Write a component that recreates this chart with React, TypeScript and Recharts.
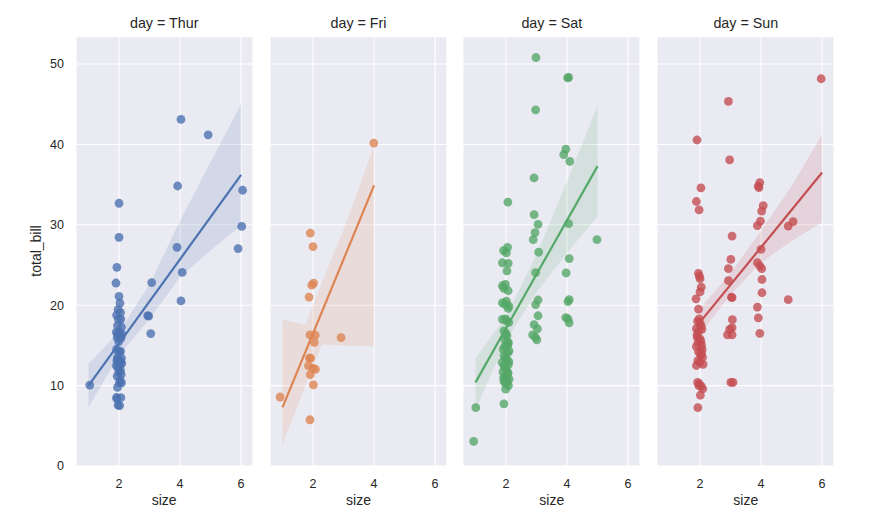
import React from "react";
import {
  ComposedChart,
  Scatter,
  Line,
  Area,
  XAxis,
  YAxis,
  CartesianGrid,
} from "recharts";

// ---------- data ----------
const days = ["Thur", "Fri", "Sat", "Sun"];
const colors = ["#4C72B0", "#DD8452", "#55A868", "#C44E52"];
const xTicks = [2, 4, 6];
const yTicks = [0, 10, 20, 30, 40, 50];

// Thursday (jittered size, total_bill)
const thurSize = [
  1.04, 3.07, 2.94, 2.97, 3.04, 4.03, 3.92, 3.9, 4.07, 4.03, 4.92, 6.05, 6.02, 5.9,
  2.0, 2.0, 1.93, 1.9, 2.0, 2.03, 1.97, 2.05, 1.92, 2.06, 1.98, 1.95, 2.08, 1.91,
  2.02, 2.09, 1.96, 2.04, 1.94, 2.07, 1.99, 1.92, 2.05, 2.01, 1.95, 2.08, 1.93,
  2.03, 2.06, 1.97, 2.09, 1.91, 2.02, 1.96, 2.05, 1.99, 2.07, 1.94, 2.04, 2.08,
  2.01, 1.95, 1.92, 2.06, 1.93, 1.97, 2.02,
];
const thurBill = [
  10.07, 22.82, 18.71, 18.64, 16.47, 43.11, 34.83, 27.2, 24.08, 20.53, 41.19, 34.3,
  29.8, 27.05, 32.68, 28.44, 24.71, 22.76, 21.1, 20.27, 19.44, 19.08, 18.78, 18.28,
  18.26, 17.47, 17.29, 16.66, 16.58, 16.43, 16.4, 16.0, 15.98, 15.95, 15.48, 14.52,
  14.26, 14.15, 13.51, 13.42, 13.16, 13.03, 13.0, 13.0, 12.74, 12.48, 12.43, 12.26,
  11.87, 11.69, 11.38, 11.17, 10.65, 10.34, 10.33, 9.78, 8.52, 8.51, 8.35, 7.56, 7.51,
];
const thurFitX = [1, 6];
const thurFitY = [10.0, 36.2];
const thurBandX = [1, 2, 3, 4, 5, 6];
const thurBandLow = [7.3, 13.8, 18.3, 23.5, 26.8, 29.9];
const thurBandHigh = [12.7, 16.7, 22.6, 30.5, 37.8, 45.0];

// Friday
const friSize = [
  1.91, 2.0, 1.96, 2.02, 1.87, 1.9, 2.07, 2.04, 2.92, 1.88, 1.92, 1.85, 2.0, 2.08,
  1.91, 2.01, 0.92, 1.9, 3.99,
];
const friBill = [
  28.97, 27.28, 22.49, 22.75, 21.01, 16.32, 16.27, 15.38, 15.98, 13.42, 13.42, 12.46,
  12.16, 12.03, 11.35, 10.09, 8.58, 5.75, 40.17,
];
const friFitX = [1, 4];
const friFitY = [7.3, 34.9];
const friBandX = [1, 1.5, 1.75, 2, 2.3, 3, 4];
const friBandLow = [2.7, 7.5, 10.0, 12.4, 15.1, 15.0, 14.9];
const friBandHigh = [18.2, 17.8, 17.6, 20.0, 22.9, 29.4, 39.8];

// Saturday
const satSize = [
  2.97, 2.98, 4.02, 4.05, 3.96, 3.89, 4.09, 2.92, 2.06, 2.92, 3.05, 4.05, 2.95, 2.89,
  4.98, 1.92, 2.05, 2.01, 3.07, 1.88, 2.07, 2.03, 4.07, 3.97, 2.97, 1.88, 1.98, 2.07,
  1.93, 1.88, 2.01, 2.09, 1.96, 2.07, 3.05, 2.97, 4.07, 4.03, 3.05, 1.88, 1.98, 2.09,
  2.02, 3.96, 4.03, 4.07, 2.92, 3.03, 2.87, 2.96, 3.01, 1.93, 2.03, 2.08, 1.96, 2.1,
  1.93, 2.02, 1.87, 2.08, 1.96, 1.9, 2.05, 1.99, 2.1, 1.93, 2.03, 2.08, 1.99, 1.93,
  1.01, 0.94, 2.0, 1.95, 2.06, 1.91, 2.04, 1.98, 2.09, 1.94, 2.01, 2.07, 1.92, 2.03,
  1.97, 2.05, 1.99,
];
const satBill = [
  44.3, 50.81, 48.27, 48.33, 39.42, 38.73, 37.9, 35.83, 32.83, 31.27, 30.06, 30.14,
  29.03, 28.15, 28.15, 26.8, 27.2, 26.5, 26.59, 25.28, 25.21, 24.27, 25.8, 24.01,
  24.06, 22.42, 22.6, 21.8, 22.1, 20.3, 20.5, 19.9, 20.1, 19.6, 20.65, 20.08, 20.69,
  20.45, 18.69, 18.25, 18.3, 17.85, 18.05, 18.45, 18.29, 17.81, 17.59, 17.07, 16.31,
  16.04, 15.69, 16.8, 16.2, 15.35, 14.9, 14.3, 13.7, 13.2, 12.9, 12.65, 12.25, 11.7,
  11.4, 11.1, 10.8, 10.6, 10.4, 10.0, 9.55, 7.74, 7.25, 3.07, 16.5, 15.8, 15.0, 14.5,
  14.0, 13.4, 13.0, 12.4, 12.0, 11.6, 11.0, 10.6, 10.3, 15.4, 14.7,
];
const satFitX = [1, 5];
const satFitY = [10.4, 37.3];
const satBandX = [1, 2, 3, 4, 5];
const satBandLow = [7.0, 15.6, 21.6, 26.5, 31.1];
const satBandHigh = [13.4, 18.6, 26.3, 35.4, 44.8];

// Sunday
const sunSize = [
  5.97, 2.93, 1.9, 2.97, 3.96, 3.91, 3.93, 2.03, 1.88, 1.97, 4.07, 4.02, 3.98, 3.88,
  5.05, 4.89, 3.05, 4.0, 3.01, 2.93, 2.93, 3.03, 3.05, 3.88, 3.96, 4.02, 4.03, 4.03,
  4.89, 3.88, 3.91, 3.96, 1.95, 1.98, 2.0, 2.04, 2.0, 1.87, 1.95, 1.92, 2.0, 2.04,
  1.88, 1.96, 2.0, 1.93, 2.05, 1.88, 2.07, 2.02, 1.93, 2.1, 1.88, 1.92, 1.98, 2.04,
  2.09, 2.01, 1.93, 3.06, 3.05, 2.97, 2.9, 3.05, 3.01, 3.08, 1.97, 2.06, 1.9, 2.03,
  1.95, 2.08, 1.99, 1.91, 2.05, 1.96,
];
const sunBill = [
  48.17, 45.35, 40.55, 38.07, 35.26, 34.81, 34.63, 34.6, 32.9, 31.85, 32.4, 31.71,
  30.46, 29.9, 30.4, 29.85, 28.6, 26.95, 25.7, 24.55, 23.05, 21.0, 20.95, 25.3, 24.9,
  24.55, 23.2, 21.55, 20.69, 19.77, 18.43, 16.49, 23.95, 23.6, 23.3, 22.25, 21.65,
  20.8, 19.5, 18.0, 17.75, 17.4, 17.1, 16.8, 15.8, 15.3, 15.0, 14.85, 14.5, 13.8,
  13.1, 12.65, 12.5, 10.4, 10.2, 9.9, 9.6, 8.8, 7.25, 18.2, 17.2, 17.0, 16.3, 16.3,
  10.4, 10.4, 18.3, 17.0, 16.3, 15.5, 14.2, 13.5, 12.9, 16.0, 14.0, 10.0,
];
const sunFitX = [2, 6];
const sunFitY = [17.9, 36.5];
const sunBandX = [2, 3, 4, 5, 6];
const sunBandLow = [16.4, 21.3, 25.3, 28.0, 30.3];
const sunBandHigh = [19.6, 24.0, 29.3, 34.8, 41.25];

// ---------- helpers ----------
const zipPts = (xs: number[], ys: number[]) => xs.map((x, i) => ({ x, y: ys[i] }));
const zipBand = (xs: number[], lo: number[], hi: number[]) =>
  xs.map((x, i) => ({ x, band: [lo[i], hi[i]] }));

const panels = [
  {
    pts: zipPts(thurSize, thurBill),
    fit: zipPts(thurFitX, thurFitY),
    band: zipBand(thurBandX, thurBandLow, thurBandHigh),
  },
  {
    pts: zipPts(friSize, friBill),
    fit: zipPts(friFitX, friFitY),
    band: zipBand(friBandX, friBandLow, friBandHigh),
  },
  {
    pts: zipPts(satSize, satBill),
    fit: zipPts(satFitX, satFitY),
    band: zipBand(satBandX, satBandLow, satBandHigh),
  },
  {
    pts: zipPts(sunSize, sunBill),
    fit: zipPts(sunFitX, sunFitY),
    band: zipBand(sunBandX, sunBandLow, sunBandHigh),
  },
];

const panelLefts = [75.7, 270, 463.3, 657.3];
const PW = 177;
const TOP = 36.7;
const BOTTOM = 466;
const H = 527;
const LM = 60;
const FONT = "'Liberation Sans', Arial, sans-serif";
const TXT = "#262626";

function Panel({ idx }: { idx: number }) {
  const p = panels[idx];
  const color = colors[idx];
  const showY = idx === 0;
  const yw = 45;
  const left = panelLefts[idx] - LM;
  return (
    <div style={{ position: "absolute", left, top: 0 }}>
      <ComposedChart
        width={LM + PW + 5}
        height={H}
        margin={{ top: TOP, right: 5, bottom: H - BOTTOM - 30, left: showY ? LM - yw : LM }}
      >
        <CartesianGrid fill="#EAEAF2" stroke="#FFFFFF" strokeWidth={1.1} />
        <XAxis
          dataKey="x"
          type="number"
          domain={[0.59, 6.39]}
          ticks={xTicks}
          allowDataOverflow
          axisLine={false}
          tickLine={false}
          tickSize={6}
          tickMargin={7}
          height={30}
          tick={{ fill: TXT, fontSize: 12.5, fontFamily: FONT }}
        />
        <YAxis
          dataKey="y"
          type="number"
          domain={[0, 53.4]}
          ticks={yTicks}
          allowDataOverflow
          hide={!showY}
          width={yw}
          axisLine={false}
          tickLine={false}
          tickSize={6}
          tickMargin={6}
          tick={{ fill: TXT, fontSize: 12.5, fontFamily: FONT }}
        />
        <Scatter
          data={p.pts}
          dataKey="y"
          isAnimationActive={false}
          shape={(s: any) => (
            <circle cx={s.cx} cy={s.cy} r={4.4} fill={color} fillOpacity={0.8} />
          )}
        />
        <Area
          data={p.band}
          dataKey="band"
          type="linear"
          stroke="none"
          fill={color}
          fillOpacity={0.15}
          isAnimationActive={false}
          dot={false}
          activeDot={false}
        />
        <Line
          data={p.fit}
          dataKey="y"
          type="linear"
          stroke={color}
          strokeWidth={2.2}
          dot={false}
          activeDot={false}
          isAnimationActive={false}
        />
      </ComposedChart>
      <div
        style={{
          position: "absolute",
          left: LM,
          width: PW,
          top: 15,
          textAlign: "center",
          fontFamily: FONT,
          fontSize: 14.3,
          lineHeight: "16px",
          color: TXT,
        }}
      >
        {`day = ${days[idx]}`}
      </div>
      <div
        style={{
          position: "absolute",
          left: LM,
          width: PW,
          top: 492,
          textAlign: "center",
          fontFamily: FONT,
          fontSize: 14,
          lineHeight: "16px",
          color: TXT,
        }}
      >
        size
      </div>
    </div>
  );
}

export default function App() {
  return (
    <div
      style={{
        position: "absolute",
        left: 0,
        top: 0,
        width: 877,
        height: 527,
        background: "#FFFFFF",
        overflow: "hidden",
      }}
    >
      {[0, 1, 2, 3].map((i) => (
        <Panel key={i} idx={i} />
      ))}
      <div
        style={{
          position: "absolute",
          left: 36 - 50,
          top: 251 - 8,
          width: 100,
          height: 16,
          lineHeight: "16px",
          textAlign: "center",
          transform: "rotate(-90deg)",
          fontFamily: FONT,
          fontSize: 14,
          color: TXT,
        }}
      >
        total_bill
      </div>
    </div>
  );
}
